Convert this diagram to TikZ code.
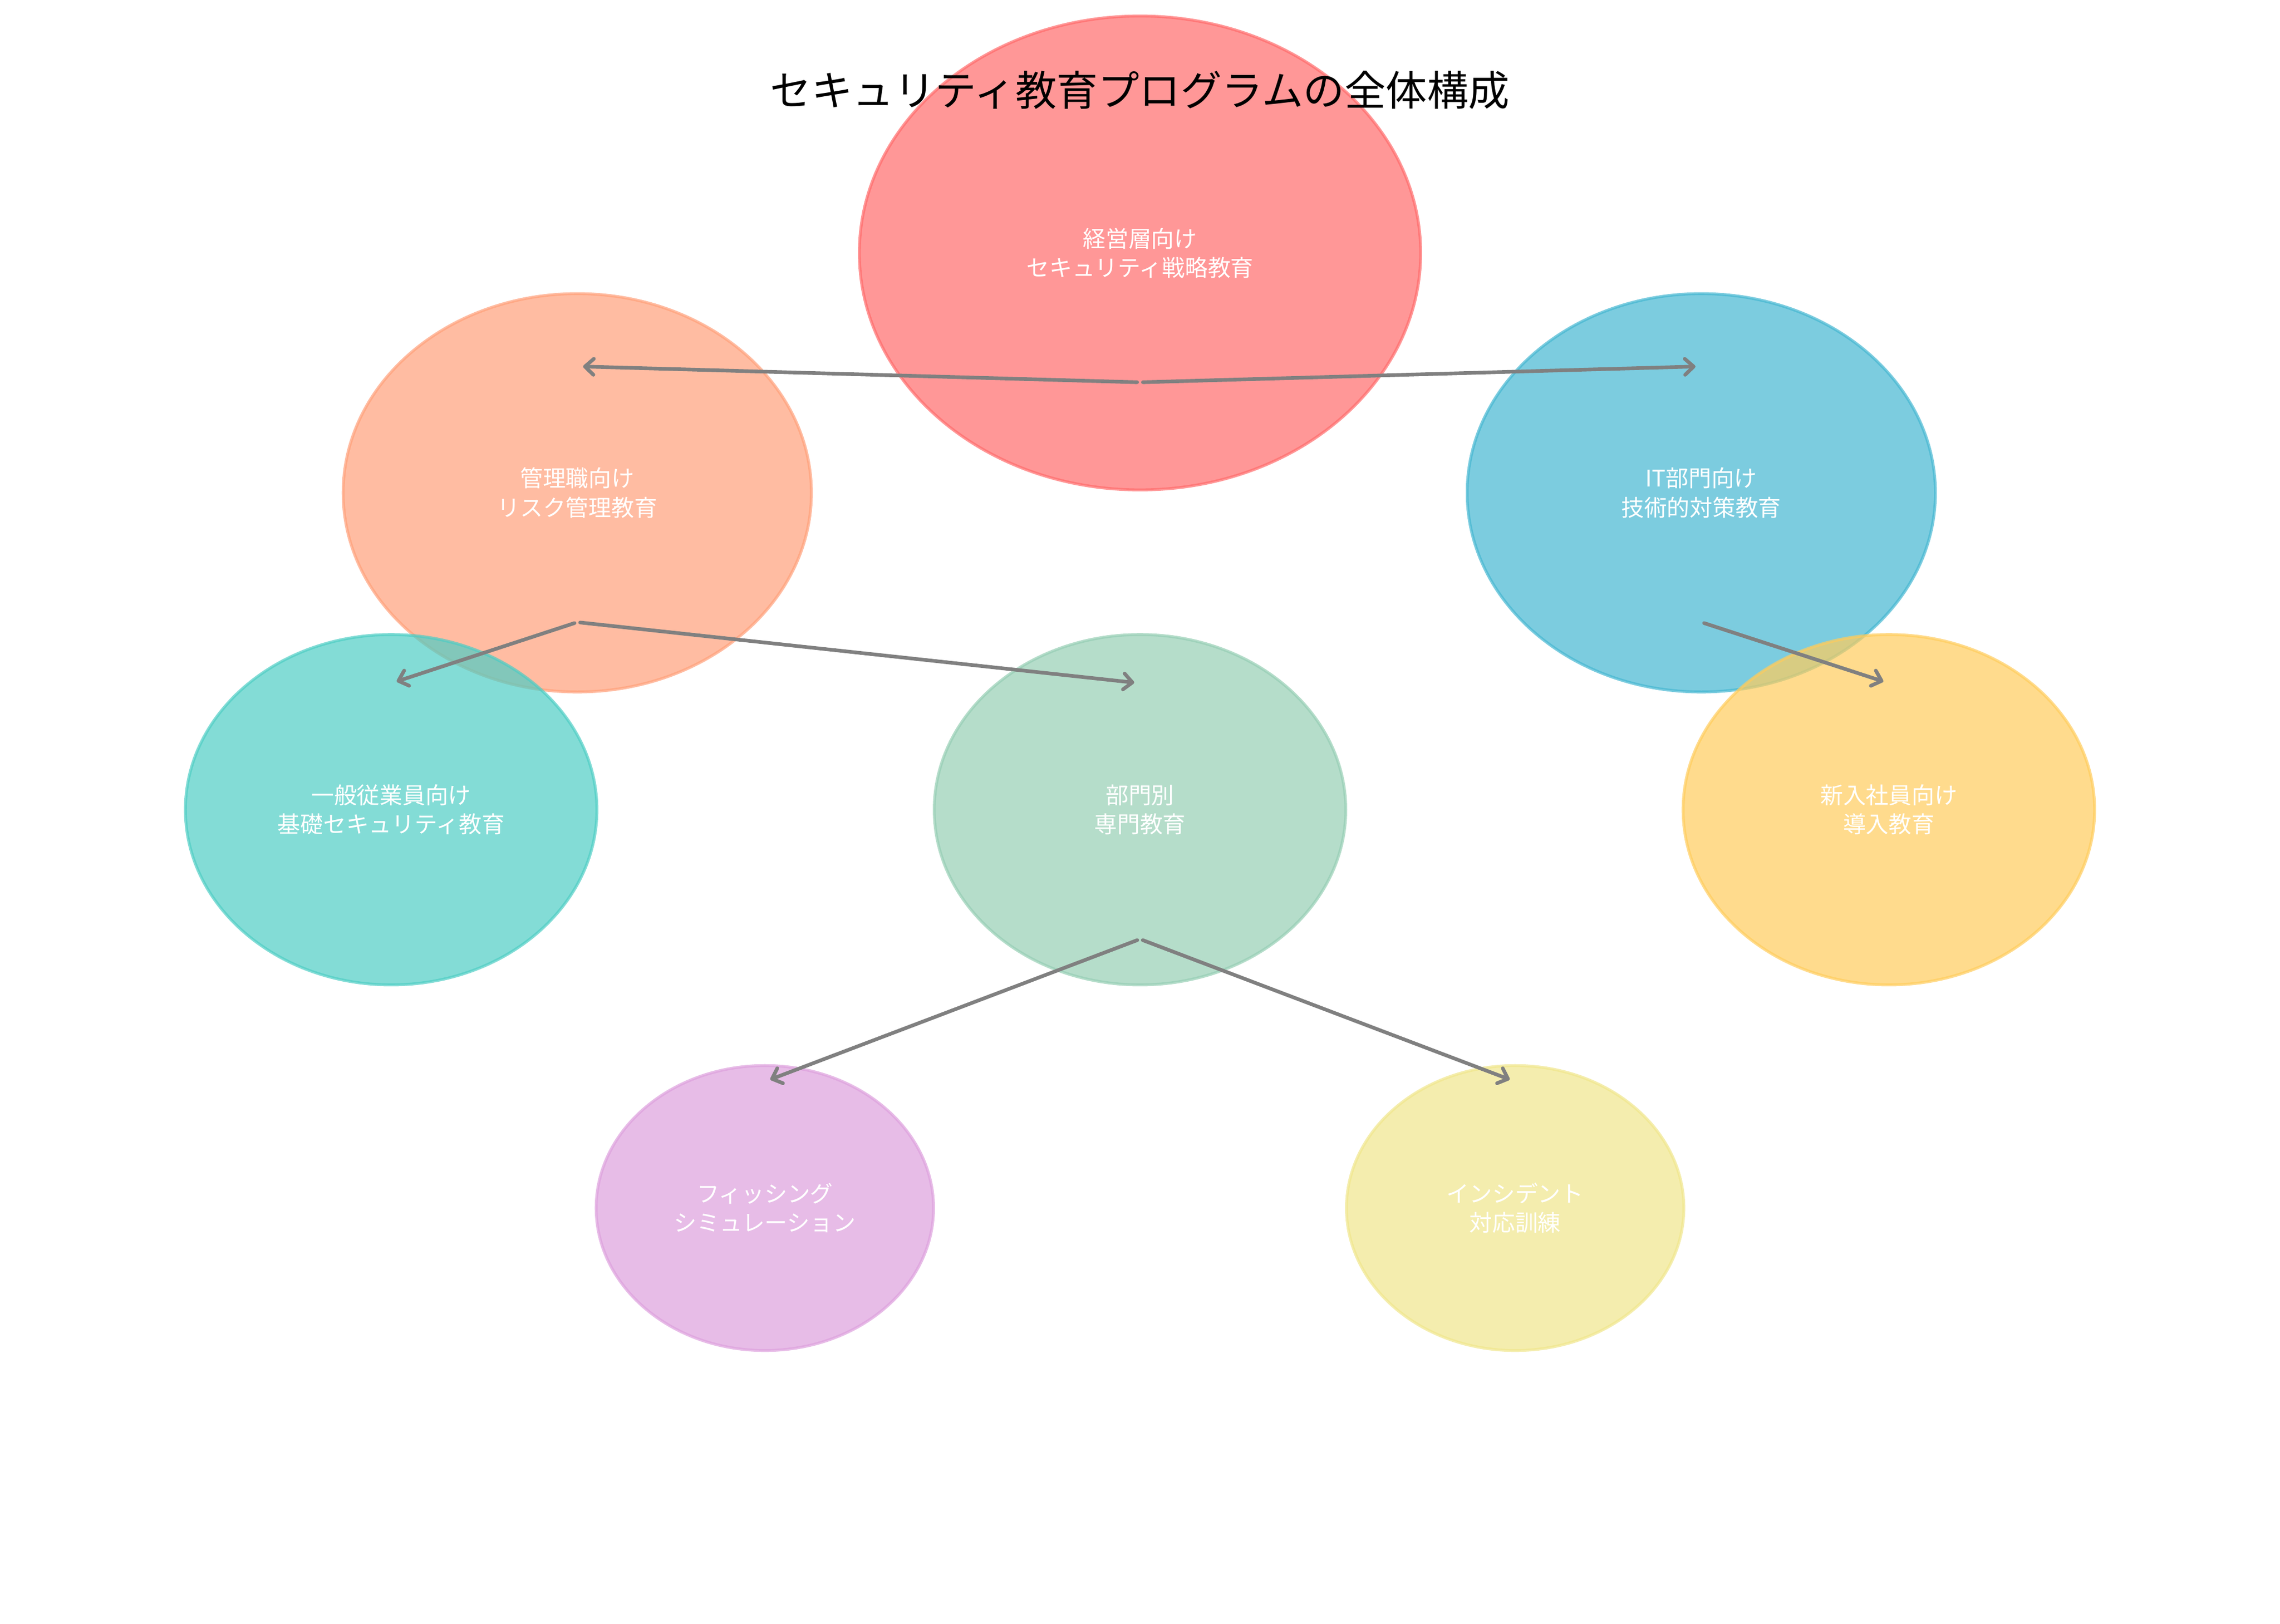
\documentclass[tikz,border=0pt]{standalone}
\usepackage{fontspec}
\setmainfont{Noto Sans CJK JP}
\usetikzlibrary{shapes.geometric,arrows.meta,calc}
\definecolor{cred}{HTML}{FF6B6B}
\definecolor{corange}{HTML}{FFA07A}
\definecolor{cblue}{HTML}{45B7D1}
\definecolor{cteal}{HTML}{4ECDC4}
\definecolor{cgreen}{HTML}{96CEB4}
\definecolor{cyellow}{HTML}{FFCC5C}
\definecolor{cplum}{HTML}{DDA0DD}
\definecolor{ckhaki}{HTML}{F0E68C}
\definecolor{carrow}{HTML}{808080}
\begin{document}
\begin{tikzpicture}[x=1pt,y=-1pt,
  blob/.style={ellipse, inner sep=0pt, line width=2pt, fill opacity=0.7, draw opacity=0.7, text opacity=1, text=white, align=center, font=\fontsize{15.7}{20}\selectfont},
  big/.style={minimum width=386pt, minimum height=326pt},
  mid/.style={minimum width=322pt, minimum height=274pt},
  sml/.style={minimum width=283pt, minimum height=241pt},
  tiny/.style={minimum width=232pt, minimum height=196pt},
  arr/.style={draw=carrow, line width=2.5pt, line cap=round, -{Straight Barb[length=6pt,width=11pt,round]}, shorten <=2pt, shorten >=4pt},
  ttl/.style={font=\fontsize{28.4}{34}\selectfont, text=black}]
\useasboundingbox (0,0) rectangle (1568,1116.8);
\node[blob, big, fill=cred, draw=cred] (exec) at (784,174) {経営層向け\\セキュリティ戦略教育};
\node[blob, mid, fill=corange, draw=corange] (mgr) at (397,339) {管理職向け\\リスク管理教育};
\node[blob, mid, fill=cblue, draw=cblue] (it) at (1170,339) {IT部門向け\\技術的対策教育};
\node[blob, sml, fill=cteal, draw=cteal] (gen) at (269,557) {一般従業員向け\\基礎セキュリティ教育};
\node[blob, sml, fill=cgreen, draw=cgreen] (dept) at (784,557) {部門別\\専門教育};
\node[blob, sml, fill=cyellow, draw=cyellow] (new) at (1299,557) {新入社員向け\\導入教育};
\node[blob, tiny, fill=cplum, draw=cplum] (phish) at (526,831) {フィッシング\\シミュレーション};
\node[blob, tiny, fill=ckhaki, draw=ckhaki] (inc) at (1042,831) {インシデント\\対応訓練};
\draw[arr] ($(exec.center)+(0,89)$) -- ($(mgr.center)+(0,-87)$);
\draw[arr] ($(exec.center)+(0,89)$) -- ($(it.center)+(0,-87)$);
\draw[arr] ($(mgr.center)+(0,89)$) -- ($(gen.center)+(0,-87)$);
\draw[arr] ($(mgr.center)+(0,89)$) -- ($(dept.center)+(0,-87)$);
\draw[arr] ($(it.center)+(0,89)$) -- ($(new.center)+(0,-87)$);
\draw[arr] ($(dept.center)+(0,89)$) -- ($(phish.center)+(0,-87)$);
\draw[arr] ($(dept.center)+(0,89)$) -- ($(inc.center)+(0,-87)$);
\node[ttl] (title) at (784,62) {セキュリティ教育プログラムの全体構成};
\end{tikzpicture}
\end{document}
